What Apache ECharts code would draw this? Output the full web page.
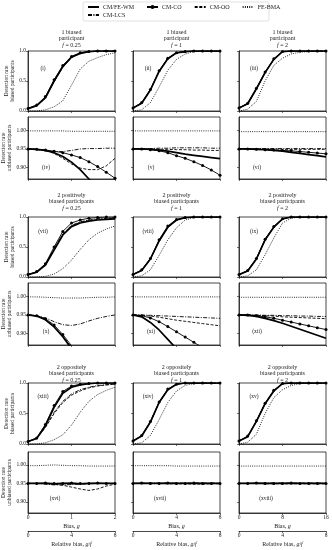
<!DOCTYPE html>
<html><head><meta charset="utf-8">
<script src="https://cdn.jsdelivr.net/npm/echarts@6/dist/echarts.min.js"></script>
<style>html,body{margin:0;padding:0;background:#fff}#c{width:332px;height:550px}</style>
</head><body><div id="c"></div>
<script>
const FONT = 'Liberation Serif';
const seriesNames = ['CM/FE-WM', 'CM-CO', 'CM-OO', 'FE-BMA', 'CM-LCS'];

// x grids (bias g) for the three columns
const xBiasF025 = [0, 0.2, 0.4, 0.6, 0.8, 1.0, 1.2, 1.4, 1.6, 1.8, 2.0];
const xBiasF1 = [0, 0.8, 1.6, 2.4, 3.2, 4.0, 4.8, 5.6, 6.4, 7.2, 8.0];
const xBiasF2 = [0, 1.6, 3.2, 4.8, 6.4, 8.0, 9.6, 11.2, 12.8, 14.4, 16.0];
const relBiasTicks = [0, 4, 8];

// ---- Row 1: 1 biased participant ----
const p01_WM  = [0.04, 0.09, 0.22, 0.50, 0.74, 0.90, 0.96, 0.99, 1.00, 1.00, 1.00];
const p01_CO  = [0.04, 0.10, 0.24, 0.52, 0.76, 0.91, 0.97, 0.99, 1.00, 1.00, 1.00];
const p01_OO  = [0.04, 0.09, 0.22, 0.49, 0.73, 0.89, 0.96, 0.99, 1.00, 1.00, 1.00];
const p01_BMA = [0.00, 0.00, 0.02, 0.07, 0.17, 0.43, 0.70, 0.83, 0.89, 0.94, 0.97];
const p01_LCS = [0.04, 0.09, 0.22, 0.49, 0.73, 0.89, 0.96, 0.99, 1.00, 1.00, 1.00];

const p02_WM  = [0.05, 0.13, 0.35, 0.66, 0.87, 0.97, 0.99, 1.00, 1.00, 1.00, 1.00];
const p02_CO  = [0.05, 0.14, 0.36, 0.67, 0.88, 0.97, 0.99, 1.00, 1.00, 1.00, 1.00];
const p02_OO  = [0.05, 0.13, 0.35, 0.66, 0.87, 0.97, 0.99, 1.00, 1.00, 1.00, 1.00];
const p02_BMA = [0.00, 0.02, 0.14, 0.40, 0.68, 0.86, 0.95, 0.99, 1.00, 1.00, 1.00];
const p02_LCS = [0.05, 0.13, 0.35, 0.66, 0.87, 0.97, 0.99, 1.00, 1.00, 1.00, 1.00];

const p03_WM  = [0.05, 0.12, 0.37, 0.64, 0.86, 0.99, 1.00, 1.00, 1.00, 1.00, 1.00];
const p03_CO  = [0.05, 0.13, 0.38, 0.65, 0.87, 0.99, 1.00, 1.00, 1.00, 1.00, 1.00];
const p03_OO  = [0.05, 0.12, 0.37, 0.64, 0.86, 0.99, 1.00, 1.00, 1.00, 1.00, 1.00];
const p03_BMA = [0.00, 0.03, 0.16, 0.50, 0.76, 0.88, 0.95, 0.98, 0.99, 1.00, 1.00];
const p03_LCS = [0.05, 0.12, 0.37, 0.64, 0.86, 0.99, 1.00, 1.00, 1.00, 1.00, 1.00];

const p04_WM  = [0.950, 0.949, 0.946, 0.940, 0.930, 0.915, 0.895, 0.870, 0.845, 0.820, 0.795];
const p04_CO  = [0.950, 0.949, 0.947, 0.944, 0.940, 0.934, 0.927, 0.916, 0.903, 0.888, 0.872];
const p04_OO  = [0.950, 0.949, 0.946, 0.938, 0.925, 0.910, 0.899, 0.895, 0.895, 0.905, 0.925];
const p04_BMA = [0.998, 0.998, 0.998, 0.998, 0.998, 0.997, 0.997, 0.997, 0.997, 0.997, 0.997];
const p04_LCS = [0.950, 0.948, 0.945, 0.943, 0.943, 0.946, 0.950, 0.951, 0.951, 0.952, 0.952];

const p05_WM  = [0.950, 0.950, 0.949, 0.947, 0.944, 0.940, 0.936, 0.933, 0.930, 0.927, 0.924];
const p05_CO  = [0.950, 0.950, 0.948, 0.945, 0.940, 0.932, 0.925, 0.916, 0.906, 0.894, 0.880];
const p05_OO  = [0.950, 0.950, 0.950, 0.949, 0.949, 0.948, 0.948, 0.947, 0.947, 0.946, 0.946];
const p05_BMA = [0.998, 0.998, 0.998, 0.998, 0.998, 0.998, 0.998, 0.998, 0.998, 0.998, 0.998];
const p05_LCS = [0.950, 0.950, 0.951, 0.952, 0.952, 0.953, 0.953, 0.953, 0.953, 0.952, 0.952];

const p06_WM  = [0.950, 0.950, 0.949, 0.948, 0.946, 0.944, 0.941, 0.938, 0.935, 0.932, 0.929];
const p06_CO  = [0.950, 0.950, 0.949, 0.948, 0.947, 0.946, 0.945, 0.943, 0.941, 0.939, 0.937];
const p06_OO  = [0.950, 0.950, 0.950, 0.950, 0.950, 0.949, 0.949, 0.949, 0.949, 0.949, 0.949];
const p06_BMA = [0.996, 0.996, 0.996, 0.996, 0.996, 0.996, 0.996, 0.996, 0.996, 0.996, 0.996];
const p06_LCS = [0.950, 0.951, 0.951, 0.951, 0.951, 0.951, 0.951, 0.951, 0.951, 0.951, 0.951];

// ---- Row 2: 2 positively biased participants ----
const p07_WM  = [0.04, 0.08, 0.20, 0.45, 0.70, 0.84, 0.90, 0.93, 0.95, 0.96, 0.97];
const p07_CO  = [0.04, 0.09, 0.22, 0.50, 0.76, 0.90, 0.95, 0.98, 0.99, 1.00, 1.00];
const p07_OO  = [0.04, 0.08, 0.20, 0.46, 0.71, 0.85, 0.91, 0.94, 0.96, 0.97, 0.98];
const p07_BMA = [0.00, 0.00, 0.01, 0.05, 0.14, 0.28, 0.46, 0.62, 0.73, 0.80, 0.85];
const p07_LCS = [0.04, 0.08, 0.21, 0.47, 0.72, 0.86, 0.92, 0.95, 0.97, 0.98, 0.99];

const p08_WM  = [0.04, 0.11, 0.30, 0.60, 0.83, 0.95, 0.99, 1.00, 1.00, 1.00, 1.00];
const p08_CO  = [0.04, 0.12, 0.31, 0.62, 0.85, 0.96, 0.99, 1.00, 1.00, 1.00, 1.00];
const p08_OO  = [0.04, 0.11, 0.30, 0.60, 0.83, 0.95, 0.99, 1.00, 1.00, 1.00, 1.00];
const p08_BMA = [0.00, 0.02, 0.12, 0.36, 0.62, 0.82, 0.95, 0.99, 1.00, 1.00, 1.00];
const p08_LCS = [0.04, 0.11, 0.30, 0.60, 0.83, 0.95, 0.99, 1.00, 1.00, 1.00, 1.00];

const p09_WM  = [0.04, 0.10, 0.30, 0.62, 0.83, 0.97, 1.00, 1.00, 1.00, 1.00, 1.00];
const p09_CO  = [0.04, 0.11, 0.31, 0.63, 0.84, 0.97, 1.00, 1.00, 1.00, 1.00, 1.00];
const p09_OO  = [0.04, 0.10, 0.30, 0.62, 0.83, 0.97, 1.00, 1.00, 1.00, 1.00, 1.00];
const p09_BMA = [0.00, 0.02, 0.12, 0.37, 0.65, 0.90, 0.98, 1.00, 1.00, 1.00, 1.00];
const p09_LCS = [0.04, 0.10, 0.30, 0.62, 0.83, 0.97, 1.00, 1.00, 1.00, 1.00, 1.00];

const p10_WM  = [0.950, 0.947, 0.937, 0.918, 0.892, 0.860, 0.825, 0.790, 0.755, 0.720, 0.685];
const p10_CO  = [0.950, 0.948, 0.940, 0.923, 0.898, 0.868, 0.834, 0.800, 0.765, 0.730, 0.695];
const p10_OO  = [0.950, 0.947, 0.938, 0.920, 0.894, 0.863, 0.828, 0.793, 0.758, 0.723, 0.688];
const p10_BMA = [0.998, 0.998, 0.997, 0.996, 0.995, 0.995, 0.995, 0.996, 0.997, 0.997, 0.998];
const p10_LCS = [0.950, 0.948, 0.942, 0.932, 0.924, 0.922, 0.926, 0.934, 0.941, 0.946, 0.950];

const p11_WM  = [0.950, 0.945, 0.930, 0.910, 0.885, 0.860, 0.835, 0.810, 0.785, 0.760, 0.735];
const p11_CO  = [0.950, 0.948, 0.942, 0.932, 0.919, 0.905, 0.891, 0.877, 0.863, 0.849, 0.835];
const p11_OO  = [0.950, 0.949, 0.947, 0.944, 0.940, 0.936, 0.933, 0.930, 0.927, 0.924, 0.921];
const p11_BMA = [0.998, 0.998, 0.998, 0.998, 0.998, 0.998, 0.998, 0.998, 0.998, 0.998, 0.998];
const p11_LCS = [0.950, 0.950, 0.949, 0.948, 0.947, 0.946, 0.945, 0.944, 0.943, 0.942, 0.941];

const p12_WM  = [0.950, 0.949, 0.946, 0.941, 0.935, 0.928, 0.920, 0.912, 0.904, 0.896, 0.888];
const p12_CO  = [0.950, 0.950, 0.948, 0.945, 0.941, 0.936, 0.931, 0.926, 0.921, 0.916, 0.911];
const p12_OO  = [0.950, 0.950, 0.949, 0.948, 0.947, 0.945, 0.944, 0.943, 0.942, 0.941, 0.940];
const p12_BMA = [0.997, 0.997, 0.997, 0.997, 0.997, 0.997, 0.997, 0.997, 0.997, 0.997, 0.997];
const p12_LCS = [0.950, 0.950, 0.950, 0.949, 0.949, 0.948, 0.948, 0.947, 0.947, 0.946, 0.946];

// ---- Row 3: 2 oppositely biased participants ----
const p13_WM  = [0.04, 0.09, 0.30, 0.60, 0.83, 0.93, 0.97, 0.99, 1.00, 1.00, 1.00];
const p13_CO  = [0.04, 0.10, 0.32, 0.63, 0.86, 0.95, 0.98, 0.99, 1.00, 1.00, 1.00];
const p13_OO  = [0.04, 0.09, 0.27, 0.50, 0.68, 0.80, 0.87, 0.92, 0.95, 0.97, 0.98];
const p13_BMA = [0.00, 0.00, 0.02, 0.07, 0.15, 0.31, 0.52, 0.70, 0.81, 0.88, 0.93];
const p13_LCS = [0.04, 0.09, 0.28, 0.52, 0.70, 0.82, 0.89, 0.93, 0.96, 0.97, 0.98];

const p14_WM  = [0.05, 0.13, 0.36, 0.68, 0.89, 0.98, 1.00, 1.00, 1.00, 1.00, 1.00];
const p14_CO  = [0.05, 0.14, 0.37, 0.69, 0.90, 0.98, 1.00, 1.00, 1.00, 1.00, 1.00];
const p14_OO  = [0.05, 0.13, 0.36, 0.68, 0.89, 0.98, 1.00, 1.00, 1.00, 1.00, 1.00];
const p14_BMA = [0.00, 0.02, 0.14, 0.40, 0.68, 0.87, 0.96, 0.99, 1.00, 1.00, 1.00];
const p14_LCS = [0.05, 0.13, 0.36, 0.68, 0.89, 0.98, 1.00, 1.00, 1.00, 1.00, 1.00];

const p15_WM  = [0.05, 0.12, 0.37, 0.66, 0.87, 0.99, 1.00, 1.00, 1.00, 1.00, 1.00];
const p15_CO  = [0.05, 0.13, 0.38, 0.67, 0.88, 0.99, 1.00, 1.00, 1.00, 1.00, 1.00];
const p15_OO  = [0.05, 0.12, 0.37, 0.66, 0.87, 0.99, 1.00, 1.00, 1.00, 1.00, 1.00];
const p15_BMA = [0.00, 0.03, 0.16, 0.50, 0.76, 0.89, 0.96, 0.99, 1.00, 1.00, 1.00];
const p15_LCS = [0.05, 0.12, 0.37, 0.66, 0.87, 0.99, 1.00, 1.00, 1.00, 1.00, 1.00];

const p16_WM  = [0.950, 0.950, 0.950, 0.949, 0.950, 0.950, 0.949, 0.950, 0.950, 0.950, 0.950];
const p16_CO  = [0.950, 0.950, 0.951, 0.950, 0.950, 0.951, 0.950, 0.950, 0.951, 0.950, 0.950];
const p16_OO  = [0.950, 0.950, 0.950, 0.948, 0.945, 0.940, 0.935, 0.931, 0.935, 0.943, 0.948];
const p16_BMA = [0.998, 0.998, 0.999, 1.000, 0.999, 0.998, 0.998, 0.997, 0.997, 0.997, 0.997];
const p16_LCS = [0.950, 0.950, 0.948, 0.946, 0.946, 0.947, 0.948, 0.949, 0.950, 0.950, 0.950];

const p17_WM  = [0.950, 0.950, 0.950, 0.950, 0.950, 0.950, 0.950, 0.950, 0.950, 0.950, 0.950];
const p17_CO  = [0.950, 0.951, 0.950, 0.950, 0.951, 0.950, 0.950, 0.951, 0.950, 0.950, 0.950];
const p17_OO  = [0.950, 0.950, 0.950, 0.950, 0.949, 0.949, 0.949, 0.948, 0.948, 0.949, 0.949];
const p17_BMA = [0.998, 0.998, 0.998, 0.998, 0.998, 0.997, 0.997, 0.997, 0.997, 0.997, 0.997];
const p17_LCS = [0.950, 0.950, 0.951, 0.951, 0.951, 0.951, 0.951, 0.951, 0.951, 0.951, 0.951];

const p18_WM  = [0.950, 0.950, 0.950, 0.950, 0.950, 0.950, 0.950, 0.950, 0.950, 0.950, 0.950];
const p18_CO  = [0.950, 0.950, 0.951, 0.950, 0.950, 0.950, 0.951, 0.950, 0.950, 0.950, 0.950];
const p18_OO  = [0.950, 0.950, 0.950, 0.949, 0.949, 0.949, 0.949, 0.949, 0.949, 0.949, 0.949];
const p18_BMA = [0.997, 0.997, 0.997, 0.997, 0.997, 0.997, 0.997, 0.997, 0.997, 0.997, 0.997];
const p18_LCS = [0.950, 0.950, 0.951, 0.951, 0.951, 0.951, 0.951, 0.951, 0.951, 0.951, 0.951];

const panelLabels = ['(i)','(ii)','(iii)','(iv)','(v)','(vi)','(vii)','(viii)','(ix)','(x)','(xi)','(xii)','(xiii)','(xiv)','(xv)','(xvi)','(xvii)','(xviii)'];
const rowTitles = ['1 biased\nparticipant', '2 positively\nbiased participants', '2 oppositely\nbiased participants'];
const fValues = ['0.25', '1', '2'];
const yTicksTop = [0, 0.5, 1.0];
const yTicksLow = [0.90, 0.95, 1.00];

// -------- build --------
const panelData = [
  [p01_WM,p01_CO,p01_OO,p01_BMA,p01_LCS],[p02_WM,p02_CO,p02_OO,p02_BMA,p02_LCS],[p03_WM,p03_CO,p03_OO,p03_BMA,p03_LCS],
  [p04_WM,p04_CO,p04_OO,p04_BMA,p04_LCS],[p05_WM,p05_CO,p05_OO,p05_BMA,p05_LCS],[p06_WM,p06_CO,p06_OO,p06_BMA,p06_LCS],
  [p07_WM,p07_CO,p07_OO,p07_BMA,p07_LCS],[p08_WM,p08_CO,p08_OO,p08_BMA,p08_LCS],[p09_WM,p09_CO,p09_OO,p09_BMA,p09_LCS],
  [p10_WM,p10_CO,p10_OO,p10_BMA,p10_LCS],[p11_WM,p11_CO,p11_OO,p11_BMA,p11_LCS],[p12_WM,p12_CO,p12_OO,p12_BMA,p12_LCS],
  [p13_WM,p13_CO,p13_OO,p13_BMA,p13_LCS],[p14_WM,p14_CO,p14_OO,p14_BMA,p14_LCS],[p15_WM,p15_CO,p15_OO,p15_BMA,p15_LCS],
  [p16_WM,p16_CO,p16_OO,p16_BMA,p16_LCS],[p17_WM,p17_CO,p17_OO,p17_BMA,p17_LCS],[p18_WM,p18_CO,p18_OO,p18_BMA,p18_LCS]
];
const xCols = [xBiasF025, xBiasF1, xBiasF2];
const xMax = [2, 8, 16], xInt = [1, 4, 8];

const colLeft = [28, 133, 239], colW = 87;
const subTop = [[51, 117], [217, 283], [383, 452]];
const subH = [[60, 62], [60, 62], [61, 61]];
const INK = '#1a1a1a';

const styleOf = {
  'CM/FE-WM': { lineStyle: { width: 1.7, type: 'solid' } },
  'CM-CO':    { lineStyle: { width: 0.9, type: 'solid' }, symbolSize: 3 },
  'CM-OO':    { lineStyle: { width: 0.9, type: [3, 1.6] } },
  'FE-BMA':   { lineStyle: { width: 0.9, type: [0.9, 1.3] } },
  'CM-LCS':   { lineStyle: { width: 0.9, type: [4, 1.4, 1, 1.4] } }
};

const grids = [], xAxes = [], yAxes = [], series = [], graphics = [];
const italic = { fontStyle: 'italic', fontFamily: FONT, fontSize: 6, fill: INK };

for (let k = 0; k < 18; k++) {
  const bandRow = Math.floor(k / 6);
  const sub = Math.floor((k % 6) / 3);
  const col = k % 3;
  const top = subTop[bandRow][sub], h = subH[bandRow][sub];
  grids.push({ left: colLeft[col], top: top, width: colW, height: h, show: true, borderColor: INK, borderWidth: 0.8, backgroundColor: 'transparent' });
  const isBottom = bandRow === 2 && sub === 1;
  xAxes.push({
    gridIndex: k, type: 'value', min: 0, max: xMax[col], interval: xInt[col],
    axisLine: { show: true, onZero: false, lineStyle: { color: INK, width: 0.8 } },
    axisTick: { show: true, length: 2, lineStyle: { color: INK, width: 0.6 } },
    axisLabel: { show: isBottom, fontSize: 5.5, fontFamily: FONT, color: INK, margin: 2 },
    splitLine: { show: false },
    name: isBottom ? '{n|Bias, }{i|g}' : '', nameLocation: 'middle', nameGap: 10,
    nameTextStyle: { rich: { n: { fontFamily: FONT, fontSize: 6, color: INK }, i: { fontFamily: FONT, fontSize: 6, fontStyle: 'italic', color: INK } } }
  });
  const ticks = sub === 0 ? yTicksTop : yTicksLow;
  yAxes.push({
    gridIndex: k, type: 'value',
    min: sub === 0 ? 0 : 0.87, max: sub === 0 ? 1.0 : 1.035,
    axisLine: { show: true, onZero: false, lineStyle: { color: INK, width: 0.8 } },
    axisTick: { show: true, length: 2, customValues: ticks, lineStyle: { color: INK, width: 0.6 } },
    axisLabel: { show: col === 0, customValues: ticks, fontSize: 5.5, fontFamily: FONT, color: INK, margin: 2,
      formatter: v => sub === 0 ? Number(v).toFixed(1) : Number(v).toFixed(2) },
    splitLine: { show: false },
    name: col === 0 ? (sub === 0 ? 'Detection rate\nbiased participants' : 'Detection rate\nunbiased participants') : '',
    nameLocation: 'middle', nameGap: 12, nameRotate: 90,
    nameTextStyle: { fontFamily: FONT, fontSize: 5.5, color: INK, lineHeight: 5.5 }
  });
  seriesNames.forEach((nm, si) => {
    const st = styleOf[nm];
    const vals = panelData[k][si];
    const marked = nm === 'CM-CO';
    series.push({
      type: 'line', name: nm, xAxisIndex: k, yAxisIndex: k,
      data: xCols[col].map((x, i) => [x, vals[i]]),
      symbol: 'circle', symbolSize: st.symbolSize || 1, showSymbol: marked, showAllSymbol: true,
      lineStyle: Object.assign({ color: '#000' }, st.lineStyle),
      itemStyle: { color: marked ? '#000' : 'rgba(0,0,0,0)' },
      clip: true, silent: true, animation: false, z: marked ? 4 : 3
    });
  });
}

// relative-bias axes under the bottom row
for (let col = 0; col < 3; col++) {
  const k = 15 + col;
  xAxes.push({
    gridIndex: k, type: 'value', min: relBiasTicks[0], max: relBiasTicks[2], interval: relBiasTicks[1] - relBiasTicks[0],
    position: 'bottom', offset: 18,
    axisLine: { show: true, onZero: false, lineStyle: { color: INK, width: 0.8 } },
    axisTick: { show: true, length: 2, lineStyle: { color: INK, width: 0.6 } },
    axisLabel: { show: true, fontSize: 5.5, fontFamily: FONT, color: INK, margin: 2 },
    splitLine: { show: false },
    name: '{n|Relative bias, }{i|g}{n|/}{i|f}', nameLocation: 'middle', nameGap: 10,
    nameTextStyle: { rich: { n: { fontFamily: FONT, fontSize: 6, color: INK }, i: { fontFamily: FONT, fontSize: 6, fontStyle: 'italic', color: INK } } }
  });
}

// column titles
const titleTops = [29, 192, 364];
for (let r = 0; r < 3; r++) {
  for (let col = 0; col < 3; col++) {
    graphics.push({
      type: 'text', silent: true,
      style: {
        x: colLeft[col] + colW / 2, y: titleTops[r], textAlign: 'center', textVerticalAlign: 'top',
        text: '{n|' + rowTitles[r].split('\n').join('}\n{n|') + '}\n{i|f}{n| = ' + fValues[col] + '}',
        rich: { n: { fontFamily: FONT, fontSize: 6, fill: INK, lineHeight: 6.5 }, i: Object.assign({ lineHeight: 6.5 }, italic) }
      }
    });
  }
}

// panel labels
const labelY = [[69, 168], [232, 332], [397, 499]];
for (let k = 0; k < 18; k++) {
  const bandRow = Math.floor(k / 6);
  const sub = Math.floor((k % 6) / 3);
  const col = k % 3;
  const dx = sub === 0 ? 15 : (bandRow === 2 ? 27 : 18);
  graphics.push({
    type: 'text', silent: true,
    style: { x: colLeft[col] + dx, y: labelY[bandRow][sub], text: panelLabels[k], textAlign: 'center', textVerticalAlign: 'middle',
      fontFamily: FONT, fontSize: 5.5, fill: INK }
  });
}

// legend frame
graphics.push({ type: 'rect', silent: true, z: -1, shape: { x: 83, y: 2, width: 186, height: 19, r: 2 }, style: { fill: '#fff', stroke: '#cccccc', lineWidth: 0.6 } });

const legendCommon = {
  orient: 'horizontal', itemWidth: 11, itemHeight: 5, itemGap: 12, padding: 0, selectedMode: false,
  textStyle: { fontFamily: FONT, fontSize: 6, color: INK, padding: [0, 0, 0, -1] }
};

const option = {
  animation: false,
  backgroundColor: '#fff',
  grid: grids, xAxis: xAxes, yAxis: yAxes, series: series,
  legend: [
    Object.assign({ data: seriesNames.slice(0, 4), left: 87, top: 4 }, legendCommon),
    Object.assign({ data: seriesNames.slice(4), left: 87, top: 12 }, legendCommon)
  ],
  graphic: graphics
};
const chart = echarts.init(document.getElementById('c'), null, { renderer: 'canvas' });
chart.setOption(option);
</script></body></html>
